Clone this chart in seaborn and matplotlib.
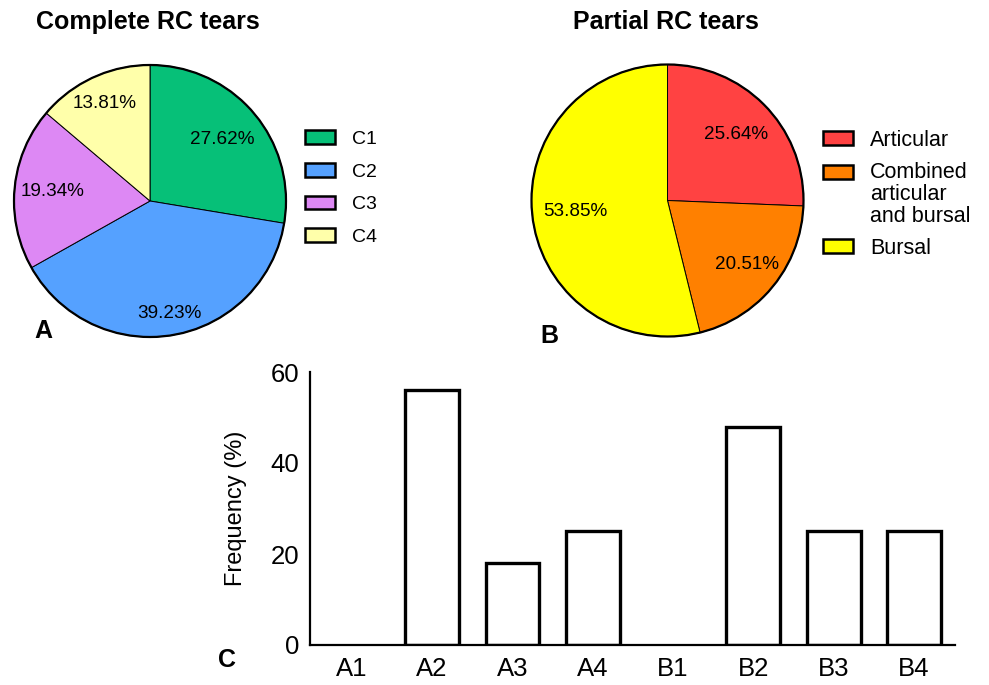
import matplotlib
matplotlib.use("Agg")
import matplotlib.pyplot as plt
from matplotlib.patches import Patch, Circle
from matplotlib.legend_handler import HandlerPatch
import numpy as np
import pandas as pd
import seaborn as sns

# ---------------- data ----------------
complete_labels = ["C1", "C2", "C3", "C4"]
complete_values = [27.62, 39.23, 19.34, 13.81]
complete_colors = ["#06C078", "#55A1FF", "#DD88F4", "#FFFFAA"]

partial_labels = ["Articular", "Combined\narticular\nand bursal", "Bursal"]
partial_values = [25.64, 20.51, 53.85]
partial_colors = ["#FF4242", "#FF8000", "#FFFF00"]

bar_categories = ["A1", "A2", "A3", "A4", "B1", "B2", "B3", "B4"]
bar_values = [0, 56, 18, 25, 0, 48, 25, 25]

title_a = "Complete RC tears"
title_b = "Partial RC tears"
ylabel_c = "Frequency (%)"
yticks_c = [0, 20, 40, 60]

# ---------------- style ----------------
sns.set_style("white")
plt.rcParams["font.family"] = ["Liberation Sans", "DejaVu Sans"]
for k in ["text.color", "axes.labelcolor", "xtick.color", "ytick.color", "axes.edgecolor"]:
    plt.rcParams[k] = "black"

W, H = 989, 685
fig = plt.figure(figsize=(W / 100, H / 100), dpi=100)


def px_axes(left, top, width, height):
    return fig.add_axes([left / W, (H - top - height) / H, width / W, height / H])


def fx(x):
    return x / W


def fy(y):
    return 1 - y / H


class ShiftedPatch(HandlerPatch):
    def __init__(self, dy, **kw):
        super().__init__(**kw)
        self.dy = dy

    def create_artists(self, legend, orig_handle, xdescent, ydescent, width,
                       height, fontsize, trans):
        arts = super().create_artists(legend, orig_handle, xdescent, ydescent,
                                      width, height, fontsize, trans)
        for a in arts:
            a.set_y(a.get_y() + self.dy)
        return arts


def draw_pie(ax, values, colors, dists):
    wedges, texts, autotexts = ax.pie(
        values, colors=colors, startangle=90, counterclock=False,
        autopct="%.2f%%", radius=1.0,
        wedgeprops=dict(edgecolor="black", linewidth=0.7),
        textprops=dict(fontsize=13.6, color="black"))
    for w, t, d in zip(wedges, autotexts, dists):
        ang = np.deg2rad((w.theta1 + w.theta2) / 2)
        t.set_position((d * np.cos(ang), d * np.sin(ang)))
        t.set_ha("center")
        t.set_va("center")
    ax.add_patch(Circle((0, 0), 1.0, fill=False, edgecolor="black",
                        linewidth=1.6, clip_on=False))
    ax.set_xlim(-1, 1)
    ax.set_ylim(-1, 1)
    ax.set_aspect("equal")
    ax.axis("off")
    return wedges


# ---------------- Pie A ----------------
axA = px_axes(14, 65, 272, 272)
draw_pie(axA, complete_values, complete_colors, [0.70, 0.84, 0.72, 0.79])
handlesA = [Patch(facecolor=c, edgecolor="black", linewidth=1.8) for c in complete_colors]
fs_legA = 14
pxA = fs_legA * 100 / 72
fig.legend(handlesA, complete_labels, loc="upper left",
           bbox_to_anchor=(fx(305), fy(130.5)), frameon=False,
           fontsize=fs_legA, borderpad=0, borderaxespad=0,
           handlelength=30 / pxA, handleheight=14 / pxA,
           handletextpad=17 / pxA, labelspacing=0.76)
fig.text(fx(148), fy(22), title_a, ha="center", va="center",
         fontsize=18, fontweight="bold")
fig.text(fx(43.5), fy(331), "A", ha="center", va="center",
         fontsize=18, fontweight="bold")

# ---------------- Pie B ----------------
axB = px_axes(531.5, 64.5, 272, 272)
draw_pie(axB, partial_values, partial_colors, [0.70, 0.75, 0.68])
handlesB = [Patch(facecolor=c, edgecolor="black", linewidth=1.8) for c in partial_colors]
fs_legB = 15.5
pxB = fs_legB * 100 / 72
legB = fig.legend(handlesB, partial_labels, loc="upper left",
                  bbox_to_anchor=(fx(823), fy(129.5)), frameon=False,
                  fontsize=fs_legB, borderpad=0, borderaxespad=0,
                  handlelength=30 / pxB, handleheight=14 / pxB,
                  handletextpad=17 / pxB, labelspacing=0.52,
                  handler_map={handlesB[1]: ShiftedPatch(dy=16.3)})
for t in legB.get_texts():
    t.set_linespacing(1.06)
fig.text(fx(666), fy(22), title_b, ha="center", va="center",
         fontsize=18, fontweight="bold")
fig.text(fx(549.5), fy(336), "B", ha="center", va="center",
         fontsize=18, fontweight="bold")

# ---------------- Bar C ----------------
axC = px_axes(310, 372, 645, 273)
df = pd.DataFrame({"cat": bar_categories, "val": bar_values})
sns.barplot(data=df, x="cat", y="val", order=bar_categories, color="white",
            saturation=1, edgecolor="black", linewidth=2.4, width=0.67, ax=axC)
for p in axC.patches:
    if p.get_height() == 0:
        p.set_visible(False)
axC.set_xlim(-0.52, 7.51)
axC.set_ylim(0, 60)
axC.set_yticks(yticks_c)
for s in ["top", "right"]:
    axC.spines[s].set_visible(False)
for s in ["left", "bottom"]:
    axC.spines[s].set_linewidth(1.6)
    axC.spines[s].set_color("black")
axC.tick_params(axis="both", direction="out", length=4.5, width=1.5,
                color="black", labelsize=18.5, pad=3)
axC.tick_params(axis="x", pad=4)
axC.set_xlabel("")
axC.set_ylabel(ylabel_c, fontsize=17)
axC.yaxis.set_label_coords(-0.098, 0.5)
fig.text(fx(227), fy(660), "C", ha="center", va="center",
         fontsize=18, fontweight="bold")

fig.savefig("out.png", dpi=100)
